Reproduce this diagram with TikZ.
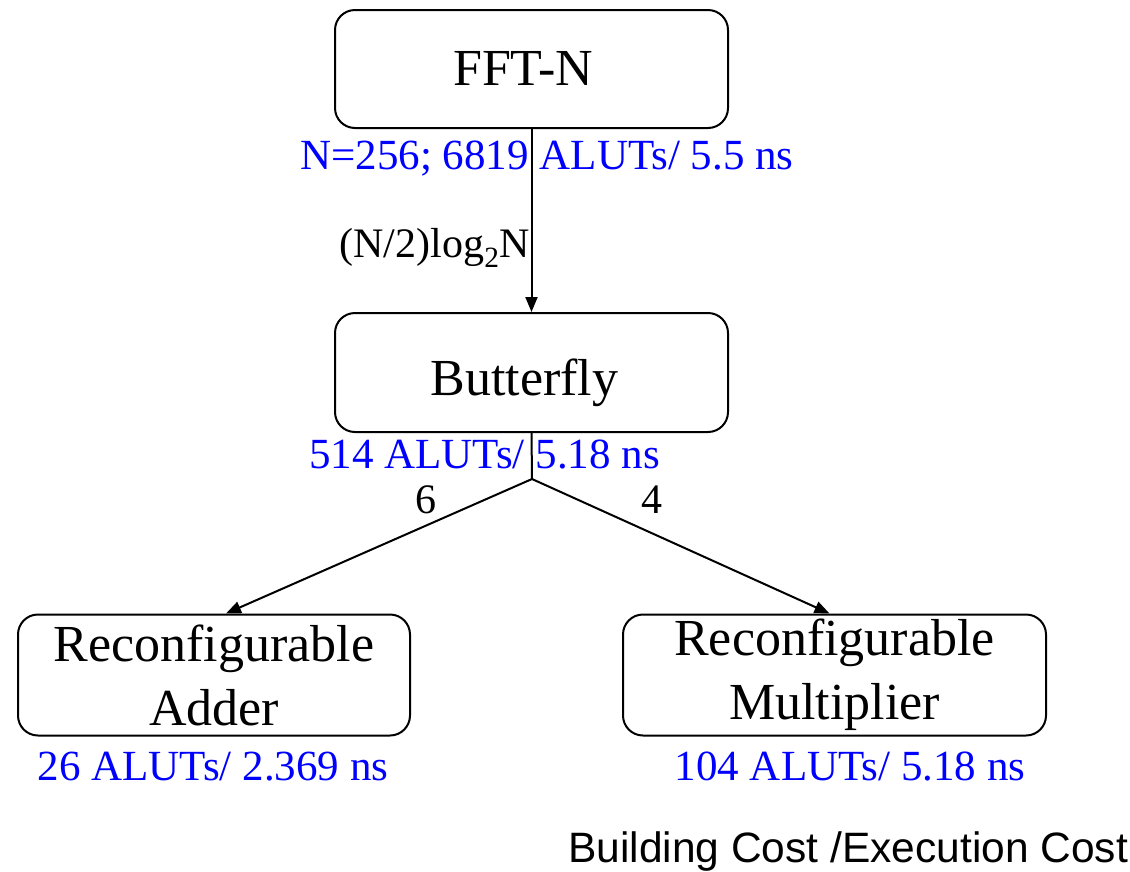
\documentclass[tikz,border=0pt]{standalone}
\usepackage{fontspec}
\setmainfont{Liberation Serif}
\newfontfamily\labelsans{Liberation Sans}
\usetikzlibrary{arrows.meta}

\tikzset{
  blockbox/.style={draw, line width=2pt, rounded corners=20pt, align=center,
    inner sep=0pt, font=\fontsize{52}{64}\selectfont},
  blocktext/.style={anchor=base, inner sep=0pt, font=\fontsize{52}{64}\selectfont},
  costtext/.style={text=blue, anchor=base, inner sep=0pt, font=\fontsize{43}{50}\selectfont},
  edgetext/.style={anchor=base, inner sep=0pt, font=\fontsize{42}{50}\selectfont},
  link/.style={line width=2pt},
  arr/.style={line width=2pt, -{Triangle[length=15pt, width=12pt]}}
}

\begin{document}
\begin{tikzpicture}[x=1pt, y=-1pt]
  \useasboundingbox (0,0) rectangle (1130,871);

  % blocks
  \node[blockbox, minimum width=393pt, minimum height=118pt] (fft) at (531.5,69) {};
  \node[blocktext] (ffttext) at (523,85) {FFT-N};
  \node[blockbox, minimum width=393pt, minimum height=119pt] (bfly) at (531.5,372.5) {};
  \node[blocktext] (bflytext) at (524.5,395) {Butterfly};
  \node[blockbox, minimum width=392pt, minimum height=121pt] (adder) at (214,675) {Reconfigurable\\Adder};
  \node[blockbox, minimum width=423pt, minimum height=121pt] (mult) at (834.5,675) {Reconfigurable\\Multiplier};

  % connectors
  \coordinate (split) at (532,479);
  \draw[arr] (fft.south) -- (bfly.north);
  \draw[link] (bfly.south) -- (split);
  \draw[arr] (split) -- ([xshift=12pt]adder.north);
  \draw[arr] (split) -- ([xshift=-5pt]mult.north);

  % cost annotations
  \node[costtext] (fftcost) at (547,169) {N=256; 6819 ALUTs/ 5.5 ns};
  \node[costtext] (bflycost) at (484.5,468) {514 ALUTs/ 5.18 ns};
  \node[costtext] (addcost) at (213,780) {26 ALUTs/ 2.369 ns};
  \node[costtext] (multcost) at (850,780) {104 ALUTs/ 5.18 ns};

  % edge multiplicities
  \node[edgetext, anchor=base east] (nfly) at (530,257) {(N/2)log\textsubscript{2}N};
  \node[edgetext] (nadd) at (426,513) {6};
  \node[edgetext] (nmult) at (652,513) {4};

  % legend
  \node[anchor=base west, inner sep=0pt, font=\labelsans\fontsize{42.5}{50}\selectfont] (legend) at (568,862) {Building Cost /Execution Cost};
\end{tikzpicture}
\end{document}
